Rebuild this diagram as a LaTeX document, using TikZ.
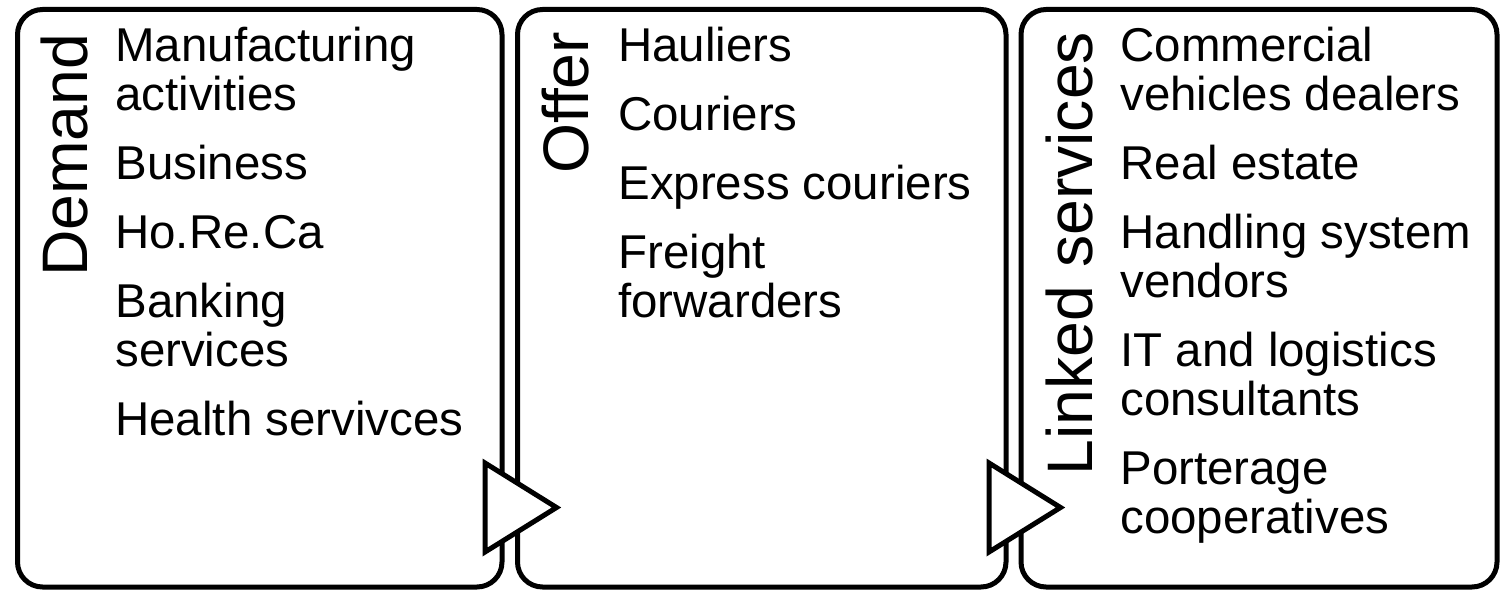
\documentclass[tikz,border=0pt]{standalone}
\usepackage{fontspec}
\setmainfont{Liberation Sans}
\usetikzlibrary{calc,positioning}

\tikzset{
  panel/.style={draw, line width=0.1cm, rounded corners=0.5cm, minimum height=11.55cm,
    outer sep=0pt, anchor=north west},
  heading/.style={rotate=90, anchor=base east, inner sep=0pt,
    font=\fontsize{36.6}{40}\selectfont},
  items/.style={align=left, inner sep=0pt, font=\fontsize{27}{27.9}\selectfont},
  flow/.style={draw, fill=white, line width=0.1cm},
}

\begin{document}
\begin{tikzpicture}
  \useasboundingbox (0,0) rectangle (30.02,11.8);

  % the three panels
  \node[panel, minimum width=9.69cm] (demand) at (0.35,11.61) {};
  \node[panel, minimum width=9.77cm] (offer)  at (10.35,11.61) {};
  \node[panel, minimum width=9.52cm] (linked) at (20.42,11.61) {};

  % arrows between the panels
  \foreach \from in {demand, offer}
    \draw[flow] ($(\from.south east)+(-0.34,0.7)$) -- ++(1.43,0.89) -- ++(-1.43,0.89) -- cycle;

  % vertical titles
  \node[heading] (demandtitle) at ($(demand.north west)+(1.39,-0.48)$) {Demand};
  \node[heading] (offertitle)  at ($(offer.north west)+(1.41,-0.44)$) {Offer};
  \node[heading] (linkedtitle) at ($(linked.north west)+(1.42,-0.44)$) {Linked services};

  % lists
  \node[items, below right=0.34cm and 1.95cm of demand.north west] (demandlist) {%
    Manufacturing\\ activities\\[0.4cm]
    Business\\[0.4cm]
    Ho.Re.Ca\\[0.4cm]
    Banking\\ services\\[0.4cm]
    Health servivces};
  \node[items, below right=0.34cm and 2.01cm of offer.north west] (offerlist) {%
    Hauliers\\[0.4cm]
    Couriers\\[0.4cm]
    Express couriers\\[0.4cm]
    Freight\\ forwarders};
  \node[items, below right=0.34cm and 1.98cm of linked.north west] (linkedlist) {%
    Commercial\\ vehicles dealers\\[0.4cm]
    Real estate\\[0.4cm]
    Handling system\\ vendors\\[0.4cm]
    IT and logistics\\ consultants\\[0.4cm]
    Porterage\\ cooperatives};
\end{tikzpicture}
\end{document}
